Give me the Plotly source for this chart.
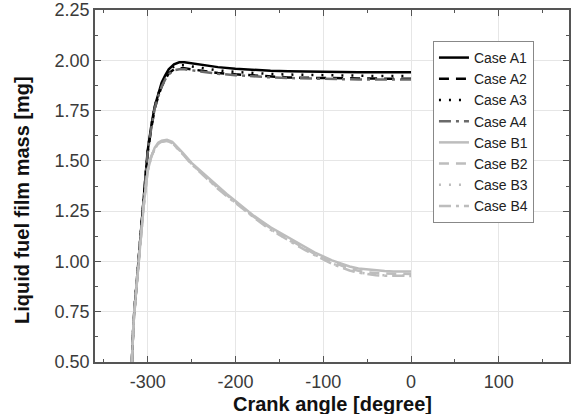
import plotly.graph_objects as go

# ---------------- data ----------------
angle_A = [-318, -316, -312, -308, -304, -300, -296, -292, -288, -284, -280, -276, -270, -264, -258,
           -250, -240, -230, -220, -200, -180, -160, -140, -120, -100, -80, -60, -40, -20, 0]
case_A1 = [0.50, 0.71, 0.92, 1.13, 1.34, 1.55, 1.67, 1.77, 1.83, 1.89, 1.925, 1.955, 1.98, 1.99, 1.99,
           1.985, 1.978, 1.972, 1.966, 1.958, 1.952, 1.948, 1.945, 1.943, 1.941, 1.940, 1.940, 1.940, 1.940, 1.940]
case_A2 = [0.50, 0.71, 0.92, 1.13, 1.34, 1.54, 1.66, 1.76, 1.82, 1.87, 1.905, 1.935, 1.955, 1.96, 1.96,
           1.955, 1.948, 1.942, 1.937, 1.930, 1.924, 1.919, 1.915, 1.913, 1.911, 1.910, 1.910, 1.909, 1.909, 1.908]
case_A3 = [0.50, 0.71, 0.92, 1.13, 1.34, 1.55, 1.67, 1.77, 1.83, 1.88, 1.915, 1.945, 1.97, 1.975, 1.975,
           1.970, 1.962, 1.956, 1.950, 1.942, 1.936, 1.932, 1.929, 1.927, 1.925, 1.924, 1.923, 1.922, 1.922, 1.922]
case_A4 = [0.50, 0.71, 0.92, 1.13, 1.34, 1.54, 1.66, 1.76, 1.82, 1.87, 1.905, 1.93, 1.95, 1.955, 1.955,
           1.950, 1.944, 1.938, 1.933, 1.926, 1.920, 1.915, 1.912, 1.909, 1.907, 1.906, 1.905, 1.905, 1.904, 1.904]

angle_B = [-318, -316, -312, -308, -304, -300, -296, -292, -288, -284, -278, -272, -266, -260, -250,
           -240, -230, -220, -210, -200, -190, -180, -170, -160, -150, -140, -130, -120, -110, -100,
           -90, -80, -70, -60, -50, -40, -30, -20, -10, 0]
case_B1 = [0.50, 0.70, 0.91, 1.11, 1.30, 1.45, 1.52, 1.565, 1.59, 1.60, 1.605, 1.595, 1.57, 1.54, 1.49,
           1.45, 1.41, 1.37, 1.335, 1.30, 1.265, 1.23, 1.20, 1.17, 1.145, 1.12, 1.095, 1.07, 1.045, 1.025,
           1.005, 0.99, 0.975, 0.965, 0.96, 0.955, 0.952, 0.95, 0.95, 0.95]
case_B2 = [0.50, 0.70, 0.91, 1.11, 1.30, 1.45, 1.52, 1.56, 1.585, 1.595, 1.60, 1.59, 1.565, 1.535, 1.485,
           1.445, 1.405, 1.365, 1.33, 1.295, 1.26, 1.225, 1.195, 1.165, 1.138, 1.112, 1.087, 1.062, 1.038, 1.017,
           0.997, 0.98, 0.965, 0.953, 0.946, 0.942, 0.94, 0.939, 0.938, 0.938]
case_B3 = [0.50, 0.70, 0.91, 1.11, 1.30, 1.45, 1.52, 1.56, 1.585, 1.595, 1.60, 1.59, 1.565, 1.535, 1.485,
           1.443, 1.403, 1.363, 1.327, 1.292, 1.257, 1.222, 1.19, 1.16, 1.133, 1.107, 1.082, 1.057, 1.033, 1.012,
           0.99, 0.972, 0.957, 0.946, 0.938, 0.933, 0.931, 0.93, 0.93, 0.93]
case_B4 = [0.50, 0.70, 0.91, 1.11, 1.30, 1.45, 1.52, 1.56, 1.585, 1.595, 1.60, 1.588, 1.563, 1.533, 1.483,
           1.441, 1.401, 1.361, 1.325, 1.29, 1.255, 1.22, 1.188, 1.158, 1.131, 1.105, 1.08, 1.055, 1.031, 1.01,
           0.988, 0.97, 0.955, 0.944, 0.936, 0.931, 0.929, 0.928, 0.928, 0.928]

x_ticks = [-300, -200, -100, 0, 100]
y_ticks = [0.50, 0.75, 1.00, 1.25, 1.50, 1.75, 2.00, 2.25]
x_title = "Crank angle [degree]"
y_title = "Liquid fuel film mass [mg]"

# ---------------- figure ----------------
series = [
    ("Case A1", angle_A, case_A1, "#000000", "solid", 2.5),
    ("Case A2", angle_A, case_A2, "#000000", "10px,7px", 2.5),
    ("Case A3", angle_A, case_A3, "#000000", "2px,8px", 2.5),
    ("Case A4", angle_A, case_A4, "#6a6a6a", "12px,5px,3px,5px", 2.5),
    ("Case B1", angle_B, case_B1, "#bdbdbd", "solid", 2.5),
    ("Case B2", angle_B, case_B2, "#bdbdbd", "10px,7px", 2.5),
    ("Case B3", angle_B, case_B3, "#bdbdbd", "2px,8px", 2.5),
    ("Case B4", angle_B, case_B4, "#bdbdbd", "12px,5px,3px,5px", 2.5),
]

fig = go.Figure()
for name, xs, ys, col, dash, w in series:
    fig.add_trace(go.Scatter(x=xs, y=ys, mode="lines", name=name,
                             line=dict(color=col, dash=dash, width=w)))

axis_common = dict(
    showline=True, linecolor="#555555", linewidth=1.5, mirror="ticks",
    ticks="inside", ticklen=6, tickwidth=1.2, tickcolor="#555555",
    showgrid=True, gridcolor="#e6e6e6", gridwidth=1,
    zeroline=False, automargin=False,
    tickfont=dict(family="Liberation Sans, Arial", size=18, color="#3a3a3a"),
)

fig.update_xaxes(range=[-360, 180], tickvals=x_ticks, ticktext=[str(v) for v in x_ticks],
                 ticklabelstandoff=3,
                 minor=dict(ticks="inside", ticklen=3, tickcolor="#555555", dtick=50, tick0=-350, showgrid=False),
                 **axis_common)
fig.update_yaxes(range=[0.5, 2.25], tickvals=y_ticks, ticktext=[f"{v:.2f}" for v in y_ticks],
                 minor=dict(ticks="inside", ticklen=3, tickcolor="#555555", dtick=0.125, tick0=0.5, showgrid=False),
                 **axis_common)

title_font = dict(family="Liberation Sans, Arial", size=20, color="#111111")
fig.add_annotation(text=f"<b>{x_title}</b>", xref="paper", yref="paper", x=0.5, y=0,
                   xanchor="center", yanchor="top", yshift=-29, showarrow=False, font=title_font)
fig.add_annotation(text=f"<b>{y_title}</b>", xref="paper", yref="paper", x=0, y=0.46,
                   xanchor="center", yanchor="middle", xshift=-73, textangle=-90,
                   showarrow=False, font=title_font)

fig.update_layout(
    width=575, height=414,
    margin=dict(l=95, r=6, t=10, b=52, autoexpand=False),
    plot_bgcolor="white", paper_bgcolor="white",
    legend=dict(x=0.713, y=0.912, xanchor="left", yanchor="top",
                bgcolor="white", bordercolor="#888888", borderwidth=1,
                font=dict(family="Liberation Sans, Arial", size=14, color="#222222"),
                tracegroupgap=0, itemwidth=30),
    showlegend=True,
)

fig.write_html("out.html")
